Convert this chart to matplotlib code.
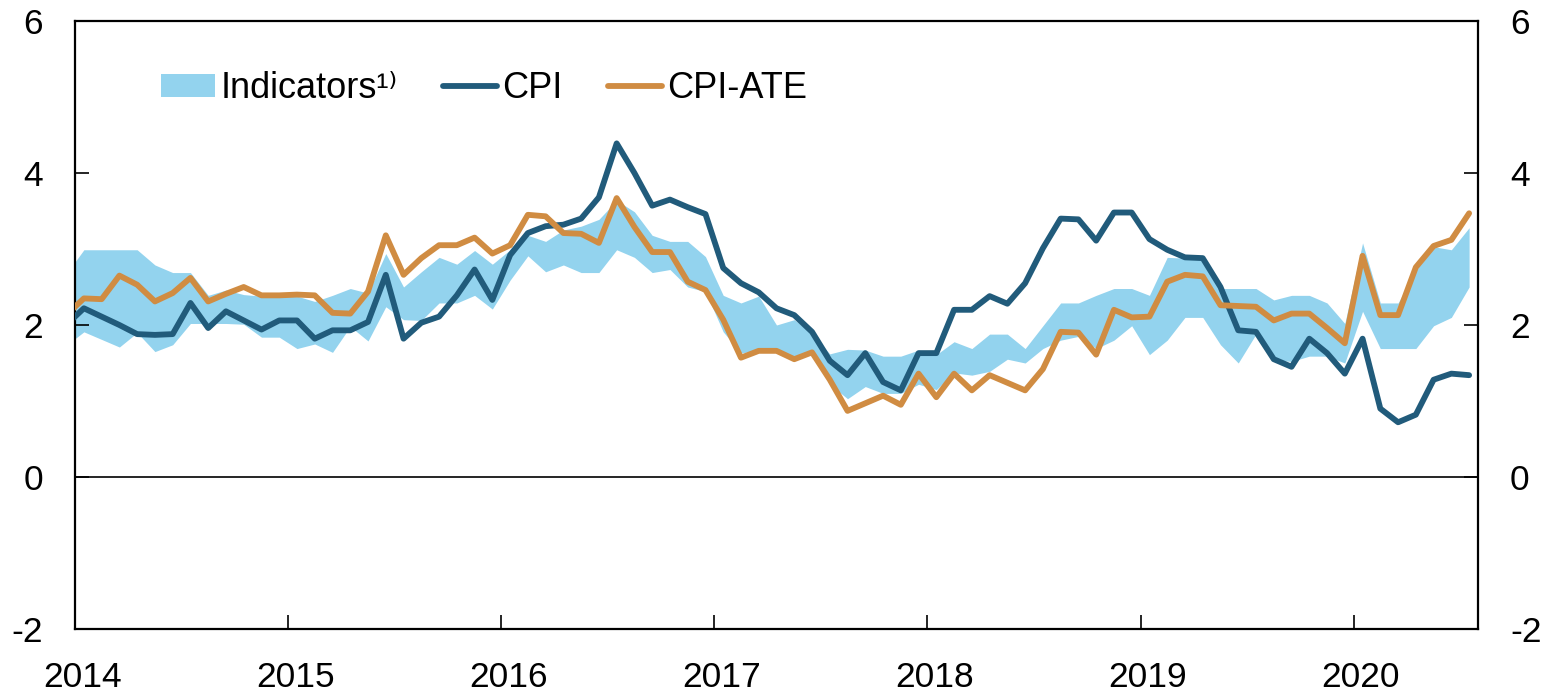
import matplotlib
matplotlib.use("Agg")
import matplotlib.pyplot as plt
import numpy as np
import pandas as pd
from matplotlib.patches import Patch
from matplotlib.lines import Line2D

plt.rcParams['font.family'] = ['Liberation Sans', 'DejaVu Sans']
plt.rcParams['axes.unicode_minus'] = False

# Monthly data Dec 2013 .. Jul 2020
months = pd.period_range('2013-12', '2020-07', freq='M')

cpi = [2.00,
       2.22, 2.11, 2.00, 1.88, 1.87, 1.88, 2.29, 1.96, 2.18, 2.06, 1.94, 2.06,
       2.06, 1.82, 1.93, 1.93, 2.04, 2.66, 1.82, 2.03, 2.11, 2.39, 2.73, 2.33,
       2.92, 3.21, 3.30, 3.32, 3.40, 3.68, 4.39, 4.00, 3.57, 3.65, 3.55, 3.46,
       2.75, 2.55, 2.43, 2.22, 2.13, 1.91, 1.53, 1.34, 1.63, 1.25, 1.14, 1.63,
       1.63, 2.20, 2.20, 2.38, 2.28, 2.55, 3.01, 3.40, 3.39, 3.11, 3.48, 3.48,
       3.13, 2.99, 2.89, 2.88, 2.50, 1.93, 1.91, 1.55, 1.45, 1.82, 1.63, 1.36,
       1.82, 0.90, 0.72, 0.82, 1.28, 1.36, 1.34]

cpi_ate = [2.13,
           2.35, 2.34, 2.65, 2.53, 2.31, 2.42, 2.62, 2.31, 2.41, 2.50, 2.39, 2.39,
           2.40, 2.39, 2.16, 2.15, 2.44, 3.18, 2.66, 2.88, 3.05, 3.05, 3.15, 2.94,
           3.05, 3.45, 3.43, 3.21, 3.20, 3.08, 3.67, 3.29, 2.96, 2.96, 2.57, 2.46,
           2.07, 1.57, 1.66, 1.66, 1.55, 1.64, 1.28, 0.87, 0.97, 1.07, 0.95, 1.36,
           1.05, 1.36, 1.14, 1.34, 1.24, 1.14, 1.42, 1.91, 1.90, 1.61, 2.20, 2.10,
           2.11, 2.57, 2.66, 2.64, 2.26, 2.25, 2.24, 2.06, 2.15, 2.15, 1.96, 1.76,
           2.91, 2.13, 2.13, 2.76, 3.04, 3.12, 3.47]

ind_high = [2.67,
            2.99, 2.99, 2.99, 2.99, 2.79, 2.69, 2.69, 2.39, 2.46, 2.40, 2.38, 2.38,
            2.38, 2.31, 2.39, 2.48, 2.42, 2.94, 2.50, 2.70, 2.89, 2.80, 2.98, 2.80,
            2.99, 3.18, 3.10, 3.25, 3.30, 3.39, 3.64, 3.49, 3.18, 3.10, 3.10, 2.90,
            2.39, 2.29, 2.38, 2.00, 2.07, 1.89, 1.62, 1.68, 1.67, 1.59, 1.59, 1.67,
            1.61, 1.78, 1.69, 1.88, 1.88, 1.69, 1.99, 2.29, 2.29, 2.39, 2.48, 2.48,
            2.39, 2.89, 2.88, 2.86, 2.48, 2.48, 2.48, 2.33, 2.39, 2.39, 2.29, 2.02,
            3.08, 2.29, 2.29, 2.72, 3.03, 2.99, 3.28]

ind_low = [1.73,
           1.91, 1.81, 1.71, 1.90, 1.65, 1.74, 2.02, 2.02, 2.02, 2.01, 1.84, 1.84,
           1.69, 1.75, 1.64, 1.98, 1.79, 2.24, 2.07, 2.06, 2.29, 2.29, 2.39, 2.21,
           2.59, 2.91, 2.70, 2.79, 2.69, 2.69, 2.99, 2.89, 2.69, 2.73, 2.50, 2.44,
           1.91, 1.63, 1.67, 1.67, 1.54, 1.63, 1.22, 1.03, 1.19, 1.10, 1.10, 1.22,
           1.15, 1.37, 1.34, 1.39, 1.55, 1.50, 1.69, 1.80, 1.85, 1.69, 1.80, 1.99,
           1.61, 1.80, 2.10, 2.10, 1.74, 1.50, 1.88, 1.54, 1.52, 1.59, 1.59, 1.50,
           2.18, 1.69, 1.69, 1.69, 1.99, 2.10, 2.50]

years = [2014, 2015, 2016, 2017, 2018, 2019, 2020]
yticks = [-2, 0, 2, 4, 6]
labels = ['Indicators¹⁾', 'CPI', 'CPI-ATE']

# x position: months since Jan 2014, plotted at mid-month
base = pd.Period('2014-01', freq='M')
x = np.array([(m - base).n for m in months]) + 0.5

c_band = '#93d3ee'
c_cpi = '#215b7b'
c_ate = '#d08c42'
LW = 4.2

fig = plt.figure(figsize=(15.48, 6.91), dpi=100)
ax = fig.add_axes([75/1548, 1-629/691, (1478-75)/1548, (629-21)/691])

ax.fill_between(x, ind_low, ind_high, color=c_band, lw=0, zorder=1)
ax.axhline(0, color='black', lw=1.2, zorder=2)
ax.plot(x, cpi, color=c_cpi, lw=LW, zorder=3, solid_joinstyle='round', solid_capstyle='round')
ax.plot(x, cpi_ate, color=c_ate, lw=LW, zorder=4, solid_joinstyle='round', solid_capstyle='round')

ax.set_xlim(0, 79)
ax.set_ylim(-2, 6)

ax.set_yticks(yticks)
ax.set_yticklabels([str(v) for v in yticks])

year_pos = [(y - 2014) * 12 for y in years]
ax.set_xticks(year_pos)
ax.set_xticklabels([])
ax.set_xticks([p + 0.4 for p in year_pos], minor=True)
ax.set_xticklabels([str(y) for y in years], minor=True)

ax.tick_params(axis='x', which='major', direction='in', length=10, width=1.2, top=False)
ax.tick_params(axis='x', which='minor', length=0, pad=23, labelsize=25.5)
ax.tick_params(axis='y', which='major', direction='in', length=10, width=1.2,
               left=True, right=True, labelleft=True, labelright=True,
               pad=23, labelsize=25.5)

for s in ax.spines.values():
    s.set_linewidth(1.6)

handles = [Patch(facecolor=c_band, edgecolor='none'),
           Line2D([0], [0], color=c_cpi, lw=LW, solid_capstyle='round'),
           Line2D([0], [0], color=c_ate, lw=LW, solid_capstyle='round')]
ax.legend(handles, labels, loc='center left', bbox_to_anchor=(0.0613, 0.889),
          ncol=3, frameon=False, fontsize=26, handlelength=1.5,
          handleheight=0.62, handletextpad=0.15, columnspacing=1.25,
          borderaxespad=0, borderpad=0)

fig.savefig('out.png', dpi=100)
